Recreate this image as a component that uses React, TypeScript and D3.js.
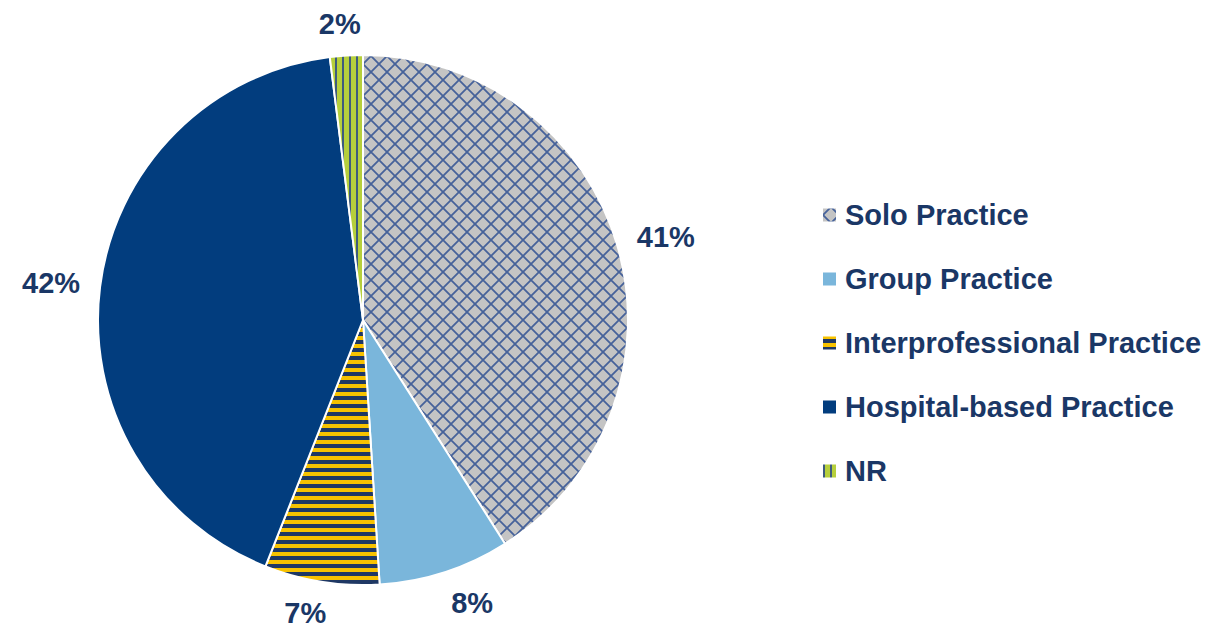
import React, { useEffect, useRef } from 'react';
import * as d3 from 'd3';

// practice setting shares, in percent (clockwise from 12 o'clock)
const categories = ['Solo Practice', 'Group Practice', 'Interprofessional Practice', 'Hospital-based Practice', 'NR'];
const shares = [41, 8, 7, 42, 2];
const labels = ['41%', '8%', '7%', '42%', '2%'];
const fills = ['url(#pat-solo)', '#7ab6db', 'url(#pat-inter)', '#023d7e', 'url(#pat-nr)'];

const W = 1206;
const H = 628;
const TEXT = '#1a3766';

function App() {
    const ref = useRef<SVGSVGElement>(null);

    useEffect(() => {
        const svg = d3.select(ref.current);
        svg.selectAll('*').remove();

        const defs = svg.append('defs');

        // gray crosshatch
        const solo = defs.append('pattern')
            .attr('id', 'pat-solo')
            .attr('patternUnits', 'userSpaceOnUse')
            .attr('width', 16).attr('height', 16);
        solo.append('rect').attr('width', 16).attr('height', 16).attr('fill', '#c4c4c4');
        solo.append('path')
            .attr('d', 'M-4,-4L20,20M20,-4L-4,20')
            .attr('stroke', '#46629a')
            .attr('stroke-width', 1.8)
            .attr('fill', 'none');

        // yellow / navy horizontal stripes
        const inter = defs.append('pattern')
            .attr('id', 'pat-inter')
            .attr('patternUnits', 'userSpaceOnUse')
            .attr('width', 8).attr('height', 8);
        inter.append('rect').attr('width', 8).attr('height', 8).attr('fill', '#f7c200');
        inter.append('rect').attr('y', 4).attr('width', 8).attr('height', 4).attr('fill', '#1f3864');

        // green with vertical stripes
        const nr = defs.append('pattern')
            .attr('id', 'pat-nr')
            .attr('patternUnits', 'userSpaceOnUse')
            .attr('width', 7).attr('height', 7);
        nr.append('rect').attr('width', 7).attr('height', 7).attr('fill', '#b6cf3c');
        nr.append('rect').attr('x', 0).attr('width', 2).attr('height', 7).attr('fill', '#3e5b7e');

        const cx = 363;
        const cy = 320;
        const r = 265;

        const pie = d3.pie<number>().sort(null).value((d) => d);
        const arcs = pie(shares);
        const arc = d3.arc<d3.PieArcDatum<number>>().innerRadius(0).outerRadius(r);

        const g = svg.append('g').attr('transform', `translate(${cx},${cy})`);

        g.selectAll('path.slice')
            .data(arcs)
            .join('path')
            .attr('class', 'slice')
            .attr('d', arc)
            .attr('fill', (d, i) => fills[i])
            .attr('stroke', '#ffffff')
            .attr('stroke-width', 2);

        // outside-end labels: nearest corner of the label box sits on the mid-angle ray
        const r0 = r + 20;
        g.selectAll('text.pct')
            .data(arcs)
            .join('text')
            .attr('class', 'pct')
            .attr('font-family', 'Liberation Sans, Arial, sans-serif')
            .attr('font-weight', 'bold')
            .attr('font-size', 29)
            .attr('fill', TEXT)
            .attr('text-anchor', 'middle')
            .attr('dy', '0.35em')
            .text((d, i) => labels[i])
            .each(function (d) {
                const a = (d.startAngle + d.endAngle) / 2;
                const bb = (this as SVGTextElement).getBBox();
                const h = bb.height * 0.75;
                const sx = Math.max(-1, Math.min(1, Math.sin(a) * 4));
                const x = Math.sin(a) * r0 + sx * bb.width / 2;
                const y = -Math.cos(a) * r0 - Math.cos(a) * h / 2;
                d3.select(this).attr('x', x).attr('y', y);
            });

        // legend
        const legend = svg.append('g').attr('transform', 'translate(823, 215)');
        const rows = legend.selectAll('g.row')
            .data(categories)
            .join('g')
            .attr('class', 'row')
            .attr('transform', (d, i) => `translate(0, ${i * 64})`);

        rows.append('rect')
            .attr('x', 0).attr('y', -6.5)
            .attr('width', 13).attr('height', 13)
            .attr('fill', (d, i) => fills[i]);

        rows.append('text')
            .attr('x', 22)
            .attr('dy', '0.35em')
            .attr('font-family', 'Liberation Sans, Arial, sans-serif')
            .attr('font-weight', 'bold')
            .attr('font-size', 29)
            .attr('fill', TEXT)
            .text((d) => d);
    }, []);

    return (
        <svg ref={ref} width={W} height={H}
            style={{ position: 'absolute', left: 0, top: 0, background: '#ffffff' }}></svg>
    );
}

export default App;
